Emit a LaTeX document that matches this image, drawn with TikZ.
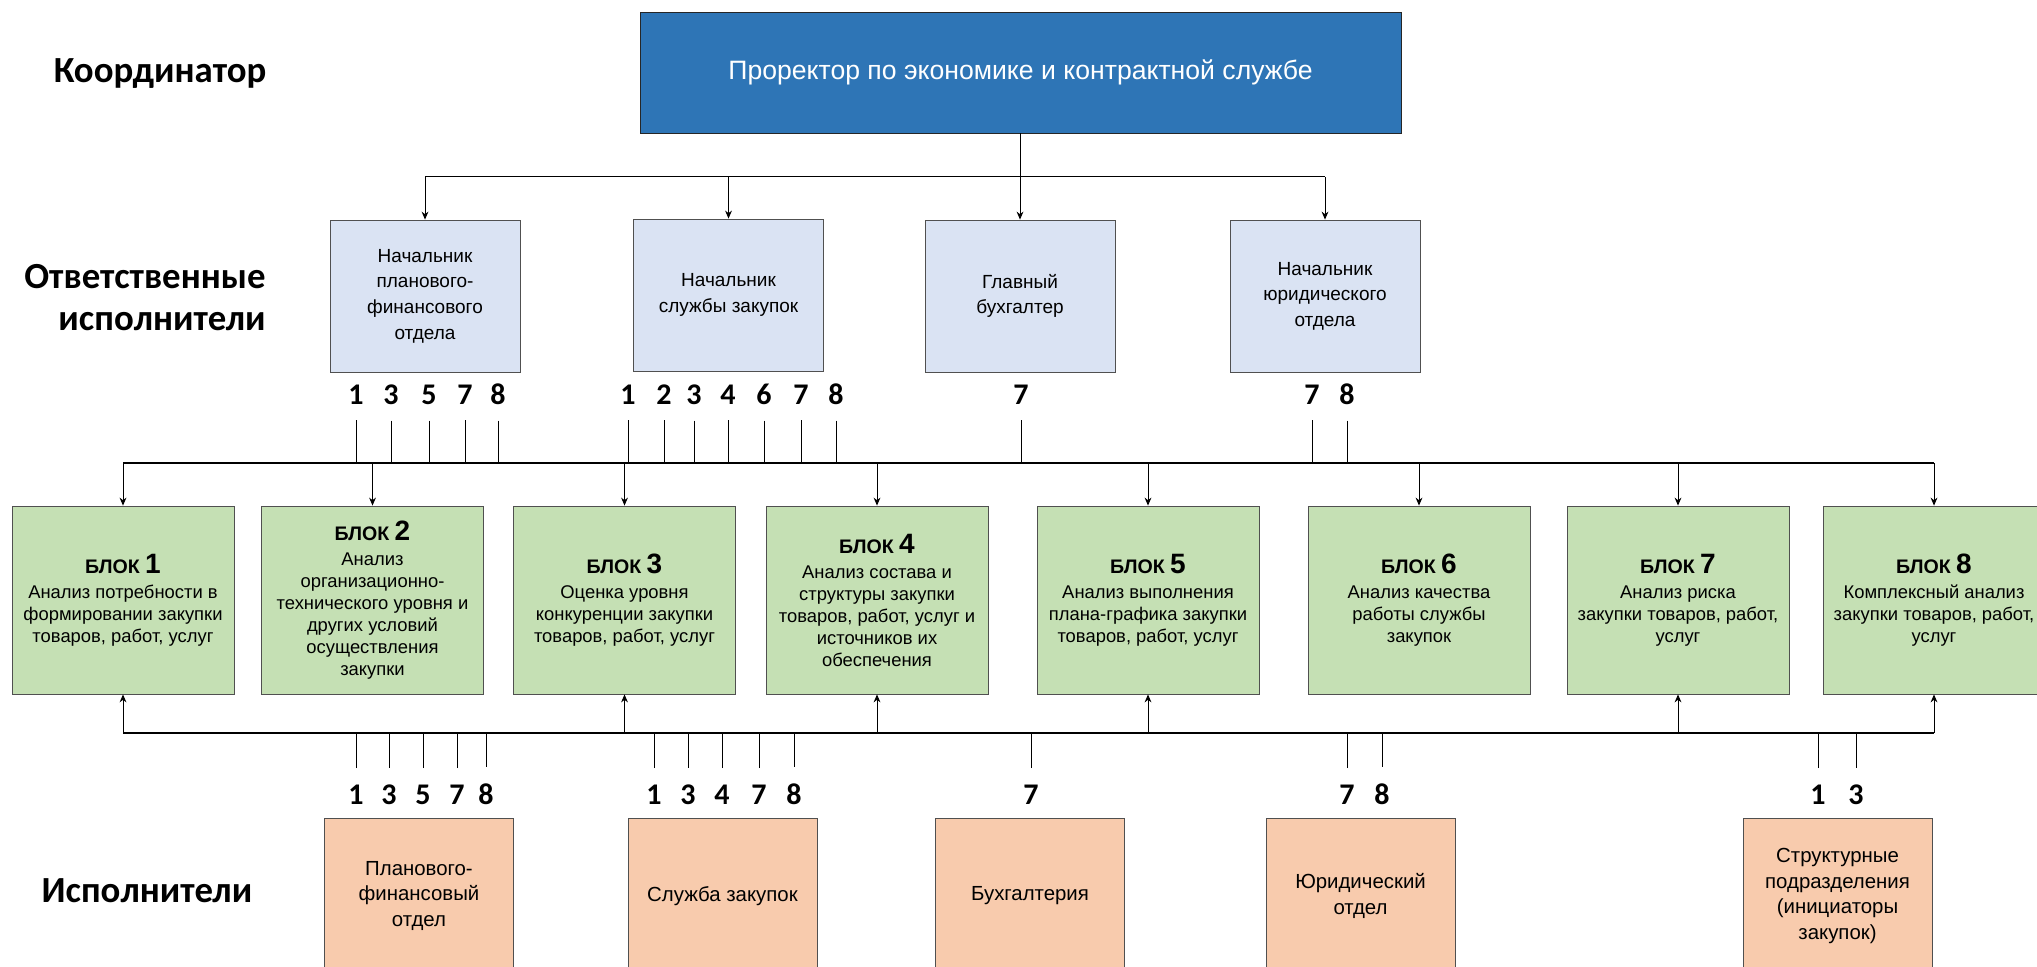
\documentclass[tikz,border=0pt]{standalone}
\usepackage{fontspec}
\setmainfont{Liberation Sans}
\newfontfamily\levelfont{Carlito}
\usetikzlibrary{arrows.meta}
\definecolor{rectorblue}{HTML}{2E75B6}
\definecolor{headblue}{HTML}{DAE3F3}
\definecolor{blockgreen}{HTML}{C5E0B4}
\definecolor{staffpeach}{HTML}{F8CBAD}
\definecolor{frame}{HTML}{505050}
\tikzstyle{rector} = [rectangle, minimum width=380.5pt, minimum height=60.5pt, text centered, draw=black!85, fill=rectorblue, text=white, font=\fontsize{13.3}{16}\selectfont]
\tikzstyle{head} = [rectangle, minimum width=95pt, minimum height=76pt, align=center, draw=frame, fill=headblue, font=\fontsize{9.5}{12.8}\selectfont]
\tikzstyle{block} = [rectangle, minimum width=111pt, minimum height=94pt, align=center, draw=frame, fill=blockgreen, font=\fontsize{9.2}{11}\selectfont]
\tikzstyle{staff} = [rectangle, minimum width=94.5pt, minimum height=78pt, align=center, draw=frame, fill=staffpeach, font=\fontsize{10.2}{12.8}\selectfont]
\tikzstyle{level} = [inner sep=0pt, font=\levelfont\bfseries\fontsize{18.4}{21}\selectfont]
\tikzstyle{num} = [inner sep=0pt, anchor=base, font=\levelfont\bfseries\fontsize{15}{15}\selectfont]
\tikzstyle{arrow} = [->, >={Stealth[length=4pt,width=3.4pt]}, line width=0.5pt]
\tikzstyle{tick} = [line width=0.5pt]
\tikzstyle{bus} = [line width=1pt]
\newcommand{\blocktitle}[1]{{\bfseries\fontsize{9.8}{12}\selectfont БЛОК {\fontsize{14}{14}\selectfont #1}}}

\begin{document}
\begin{tikzpicture}[x=0.5pt, y=-0.5pt]
\useasboundingbox (0,0) rectangle (2037,967);

% row titles
\node (lvl1) [level, anchor=base] at (160,83) {Координатор};
\node (lvl2) [level, anchor=east, align=right] at (266,298) {Ответственные\\исполнители};
\node (lvl3) [level, anchor=base] at (147,902) {Исполнители};

% coordinator and heads
\node (rector) [rector] at (1020.5,72.5) {Проректор по экономике и контрактной службе};
\node (head1) [head] at (425,296) {Начальник\\планового-\\финансового\\отдела};
\node (head2) [head] at (728.5,295) {Начальник\\службы закупок};
\node (head3) [head] at (1020,296) {Главный\\бухгалтер};
\node (head4) [head] at (1325,296) {Начальник\\юридического\\отдела};

% analysis blocks
\node (blk1) [block] at (123,600) {\blocktitle{1}\\[1.5pt]Анализ потребности в\\формировании закупки\\товаров, работ, услуг};
\node (blk2) [block] at (372.5,600) {\blocktitle{2}\\[1.5pt]Анализ\\организационно-\\технического уровня и\\других условий\\осуществления\\закупки};
\node (blk3) [block] at (624.5,600) {\blocktitle{3}\\[1.5pt]Оценка уровня\\конкуренции закупки\\товаров, работ, услуг};
\node (blk4) [block] at (877,600) {\blocktitle{4}\\[1.5pt]Анализ состава и\\структуры закупки\\товаров, работ, услуг и\\источников их\\обеспечения};
\node (blk5) [block] at (1148,600) {\blocktitle{5}\\[1.5pt]Анализ выполнения\\плана-графика закупки\\товаров, работ, услуг};
\node (blk6) [block] at (1419,600) {\blocktitle{6}\\[1.5pt]Анализ качества\\работы службы\\закупок};
\node (blk7) [block] at (1678,600) {\blocktitle{7}\\[1.5pt]Анализ риска\\закупки товаров, работ,\\услуг};
\node (blk8) [block] at (1934,600) {\blocktitle{8}\\[1.5pt]Комплексный анализ\\закупки товаров, работ,\\услуг};

% executors
\node (staff1) [staff] at (419,896) {Планового-\\финансовый\\отдел};
\node (staff2) [staff] at (722.5,896) {Служба закупок};
\node (staff3) [staff] at (1030,896) {Бухгалтерия};
\node (staff4) [staff] at (1360.5,896) {Юридический\\отдел};
\node (staff5) [staff] at (1837.5,896) {Структурные\\подразделения\\(инициаторы\\закупок)};

\coordinate (topbus) at (0,177);
\coordinate (busU) at (0,463);
\coordinate (busL) at (0,733);

% coordinator -> heads
\draw [tick] (rector.south) -- (rector.south |- topbus);
\draw [tick] (head1.north |- topbus) -- (head4.north |- topbus);
\draw [arrow] (head1.north |- topbus) -- (head1.north);
\draw [arrow] (head2.north |- topbus) -- (head2.north);
\draw [arrow] (head3.north |- topbus) -- (head3.north);
\draw [arrow] (head4.north |- topbus) -- (head4.north);

% heads -> blocks
\draw [bus] (blk1.north |- busU) -- (blk8.north |- busU);
\draw [arrow] (blk1.north |- busU) -- (blk1.north);
\draw [arrow] (blk2.north |- busU) -- (blk2.north);
\draw [arrow] (blk3.north |- busU) -- (blk3.north);
\draw [arrow] (blk4.north |- busU) -- (blk4.north);
\draw [arrow] (blk5.north |- busU) -- (blk5.north);
\draw [arrow] (blk6.north |- busU) -- (blk6.north);
\draw [arrow] (blk7.north |- busU) -- (blk7.north);
\draw [arrow] (blk8.north |- busU) -- (blk8.north);
\foreach \lbl/\x [count=\i] in {1/356,3/391,5/429,7/465,8/498,1/628,2/664,3/694,4/728,6/764,7/801,8/836,7/1021,7/1312,8/1347} {
  \node (up\i) [num] at (\x,405) {\lbl};
  \draw [tick] ([yshift=-7.5pt]up\i.south) -- (up\i.south |- busU);
}

% executors -> blocks
\draw [bus] (blk1.south |- busL) -- (blk8.south |- busL);
\draw [arrow] (blk1.south |- busL) -- (blk1.south);
\draw [arrow] (blk3.south |- busL) -- (blk3.south);
\draw [arrow] (blk4.south |- busL) -- (blk4.south);
\draw [arrow] (blk5.south |- busL) -- (blk5.south);
\draw [arrow] (blk7.south |- busL) -- (blk7.south);
\draw [arrow] (blk8.south |- busL) -- (blk8.south);
\foreach \lbl/\x [count=\i] in {1/356,3/389,5/423,7/457,8/486,1/654,3/688,4/722,7/759,8/794,7/1031,7/1347,8/1382,1/1818,3/1856} {
  \node (dn\i) [num] at (\x,804) {\lbl};
  \draw [tick] ([yshift=8pt]dn\i.north) -- (dn\i.north |- busL);
}
\end{tikzpicture}
\end{document}
